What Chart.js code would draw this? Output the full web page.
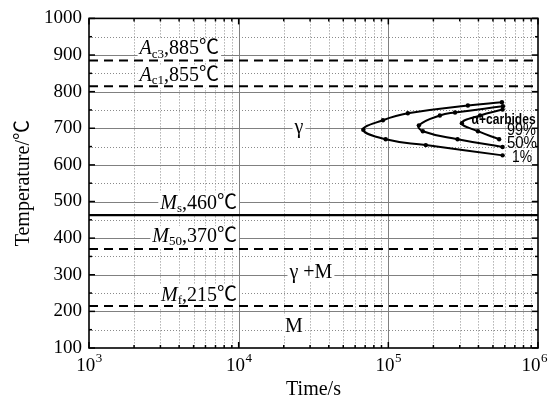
<!DOCTYPE html>
<html><head><meta charset="utf-8">
<script src="https://cdn.jsdelivr.net/npm/chart.js@4/dist/chart.umd.min.js"></script>
<style>html,body{margin:0;padding:0;background:#fff}#wrap{width:550px;height:406px;position:relative}</style>
</head><body><div id="wrap"><canvas id="c" width="550" height="406"></canvas></div>
<script>
// ---- data ----
const xDecades = [1e3, 1e4, 1e5, 1e6];
const yTickValues = [100, 200, 300, 400, 500, 600, 700, 800, 900, 1000];
// 1 % transformation curve (time s, temperature C)
const t1 = [5.74e5, 3.4e5, 1.35e5, 9.2e4, 6.8e4, 9.6e4, 1.78e5, 5.8e5];
const T1 = [771, 762, 741, 722, 696, 670, 654, 626];
// 50 % curve
const t50 = [5.83e5, 2.79e5, 2.21e5, 1.6e5, 1.7e5, 2.9e5, 5.8e5];
const T50 = [760, 743, 735, 708, 692, 670, 649];
// 99 % curve
const t99 = [5.8e5, 4.1e5, 3.1e5, 3.97e5, 5.5e5];
const T99 = [751, 735, 714, 692, 670];
// reference temperature lines
const refTemps = [885, 815, 463, 370, 215];
const refSymbols = ['A', 'A', 'M', 'M', 'M'];
const refSubs = ['c3', 'c1', 's', '50', 'f'];
const refValues = ['885', '855', '460', '370', '215'];
const phaseLabels = ['γ', 'γ +M', 'M'];
const curveLabels = ['α+carbides', '99%', '50%', '1%'];

// ---- build datasets ----
const toPts = (ts, Ts) => ts.map((t, i) => ({x: t, y: Ts[i]}));
const curveStyle = {showLine: true, borderColor: '#000', backgroundColor: '#000', borderWidth: 2,
  pointRadius: 2.2, pointBorderWidth: 0, pointBackgroundColor: '#000', tension: 0.45, fill: false};
const datasets = [
  Object.assign({data: toPts(t1, T1)}, curveStyle),
  Object.assign({data: toPts(t50, T50)}, curveStyle),
  Object.assign({data: toPts(t99, T99)}, curveStyle),
];
refTemps.forEach((T, i) => {
  const solid = refSymbols[i] === 'M' && refSubs[i] === 's';
  datasets.push({data: [{x: xDecades[0], y: T}, {x: xDecades[xDecades.length - 1], y: T}],
    showLine: true, borderColor: '#000', borderWidth: solid ? 2.2 : 2, borderDash: solid ? [] : [9, 6],
    pointRadius: 0, tension: 0, fill: false});
});

const SERIF = '"Liberation Serif", "Noto Sans CJK SC", "Times New Roman", serif';
const SANS = '"Liberation Sans", Arial, sans-serif';

function richLabel(ctx, parts, xRight, yc) {
  let w = 0;
  parts.forEach(p => { ctx.font = p.f; p.w = ctx.measureText(p.t).width; w += p.w; });
  let x = xRight - w;
  ctx.fillStyle = '#fff';
  ctx.fillRect(x - 2, yc - 11, w + 4, 23);
  ctx.fillStyle = '#000';
  ctx.textBaseline = 'middle';
  ctx.textAlign = 'left';
  parts.forEach(p => { ctx.font = p.f; ctx.fillText(p.t, x, yc + (p.dy || 0)); x += p.w; });
}

const drawPlugin = {
  id: 'decor',
  beforeDatasetsDraw(chart) {
    const {ctx, chartArea: a, scales: {x, y}} = chart;
    ctx.save();
    // minor grid (dotted)
    ctx.strokeStyle = '#8a8a8a';
    ctx.lineWidth = 1;
    ctx.setLineDash([1, 2]);
    for (let d = 0; d < xDecades.length - 1; d++) {
      for (let m = 2; m <= 9; m++) {
        const px = Math.round(x.getPixelForValue(xDecades[d] * m)) + 0.5;
        ctx.beginPath(); ctx.moveTo(px, a.top); ctx.lineTo(px, a.bottom); ctx.stroke();
      }
    }
    for (let i = 0; i < yTickValues.length - 1; i++) {
      const py = Math.round(y.getPixelForValue(yTickValues[i] + 50)) + 0.5;
      ctx.beginPath(); ctx.moveTo(a.left, py); ctx.lineTo(a.right, py); ctx.stroke();
    }
    // major grid (solid)
    ctx.setLineDash([]);
    ctx.strokeStyle = '#808080';
    xDecades.slice(1, -1).forEach(v => {
      const px = Math.round(x.getPixelForValue(v)) + 0.5;
      ctx.beginPath(); ctx.moveTo(px, a.top); ctx.lineTo(px, a.bottom); ctx.stroke();
    });
    yTickValues.slice(1, -1).forEach(v => {
      const py = Math.round(y.getPixelForValue(v)) + 0.5;
      ctx.beginPath(); ctx.moveTo(a.left, py); ctx.lineTo(a.right, py); ctx.stroke();
    });
    // reference line labels
    const labelAnchors = [[7.4e3, 916], [7.4e3, 843], [9.75e3, 495], [9.75e3, 403], [9.75e3, 243]];
    refSymbols.forEach((s, i) => {
      const parts = [
        {t: s, f: 'italic 20px ' + SERIF},
        {t: refSubs[i], f: '13px ' + SERIF, dy: 5},
        {t: ',' + refValues[i] + '℃', f: '20px ' + SERIF}
      ];
      richLabel(ctx, parts, x.getPixelForValue(labelAnchors[i][0]), y.getPixelForValue(labelAnchors[i][1]));
    });
    // phase labels
    const phaseAnchors = [[2.53e4, 703], [3.04e4, 309], [2.34e4, 162]];
    phaseLabels.forEach((t, i) => {
      ctx.font = '20px ' + SERIF;
      const w = ctx.measureText(t).width;
      const px = x.getPixelForValue(phaseAnchors[i][0]);
      const py = y.getPixelForValue(phaseAnchors[i][1]);
      ctx.fillStyle = '#fff';
      ctx.fillRect(px - w / 2 - 2, py - 10, w + 4, 20);
      ctx.fillStyle = '#000';
      ctx.textAlign = 'center'; ctx.textBaseline = 'middle';
      ctx.fillText(t, px, py + 1);
    });
    ctx.restore();
  },
  afterDatasetsDraw(chart) {
    const {ctx, chartArea: a, scales: {x, y}} = chart;
    ctx.save();
    // curve labels
    ctx.fillStyle = '#000';
    ctx.textAlign = 'left'; ctx.textBaseline = 'middle';
    const cAnchors = [[3.6e5, 721], [6.2e5, 694], [6.2e5, 657], [6.7e5, 620]];
    const cWidths = [64, 29, 30, 20];
    curveLabels.forEach((t, i) => {
      ctx.font = (i === 0 ? 'bold 14px ' : '16px ') + SANS;
      ctx.fillText(t, x.getPixelForValue(cAnchors[i][0]), y.getPixelForValue(cAnchors[i][1]), cWidths[i]);
    });
    // ticks (inward)
    ctx.strokeStyle = '#000';
    ctx.lineWidth = 1.5;
    const tick = (x1, y1, x2, y2) => { ctx.beginPath(); ctx.moveTo(x1, y1); ctx.lineTo(x2, y2); ctx.stroke(); };
    for (let d = 0; d < xDecades.length; d++) {
      const px = x.getPixelForValue(xDecades[d]);
      tick(px, a.bottom, px, a.bottom - 6); tick(px, a.top, px, a.top + 6);
      if (d < xDecades.length - 1) {
        for (let m = 2; m <= 9; m++) {
          const pm = x.getPixelForValue(xDecades[d] * m);
          tick(pm, a.bottom, pm, a.bottom - 3); tick(pm, a.top, pm, a.top + 3);
        }
      }
    }
    yTickValues.forEach((v, i) => {
      const py = y.getPixelForValue(v);
      tick(a.left, py, a.left + 6, py); tick(a.right, py, a.right - 6, py);
      if (i < yTickValues.length - 1) {
        const pm = y.getPixelForValue(v + 50);
        tick(a.left, pm, a.left + 3, pm); tick(a.right, pm, a.right - 3, pm);
      }
    });
    // frame
    ctx.lineWidth = 1.6;
    ctx.strokeRect(a.left, a.top, a.right - a.left, a.bottom - a.top);
    // x tick labels 10^n
    xDecades.forEach(v => {
      const px = x.getPixelForValue(v);
      const exp = String(Math.round(Math.log10(v)));
      ctx.font = '19px ' + SERIF; const w1 = ctx.measureText('10').width;
      ctx.font = '13px ' + SERIF; const w2 = ctx.measureText(exp).width;
      let x0 = px - (w1 + w2) / 2;
      if (x0 + w1 + w2 > chart.width - 3) x0 = chart.width - 3 - w1 - w2;
      ctx.textAlign = 'left'; ctx.textBaseline = 'middle';
      ctx.font = '19px ' + SERIF; ctx.fillText('10', x0, 366);
      ctx.font = '13px ' + SERIF; ctx.fillText(exp, x0 + w1 + 0.5, 359);
    });
    ctx.restore();
  }
};

new Chart(document.getElementById('c'), {
  type: 'scatter',
  data: {datasets},
  options: {
    responsive: false, animation: false, devicePixelRatio: 1,
    layout: {padding: {top: 15, right: 12, left: 0, bottom: 0}},
    plugins: {legend: {display: false}, tooltip: {enabled: false}},
    scales: {
      x: {
        type: 'logarithmic', min: xDecades[0], max: xDecades[xDecades.length - 1],
        grid: {display: false, drawTicks: false}, border: {display: false},
        ticks: {display: false},
        title: {display: true, text: 'Time/s', color: '#000', font: {family: SERIF, size: 20}, padding: {top: 0, bottom: 4}},
        afterFit: s => { s.height = 58; }
      },
      y: {
        type: 'linear', min: yTickValues[0], max: yTickValues[yTickValues.length - 1],
        grid: {display: false, drawTicks: false}, border: {display: false},
        afterBuildTicks: s => { s.ticks = yTickValues.map(v => ({value: v})); },
        ticks: {color: '#000', font: {family: SERIF, size: 19}, padding: 7, callback: v => String(v)},
        title: {display: true, text: 'Temperature/℃', color: '#000', font: {family: SERIF, size: 20}, padding: {top: 12, bottom: 0}},
        afterFit: s => { s.width = 89; }
      }
    }
  },
  plugins: [drawPlugin]
});
</script></body></html>
